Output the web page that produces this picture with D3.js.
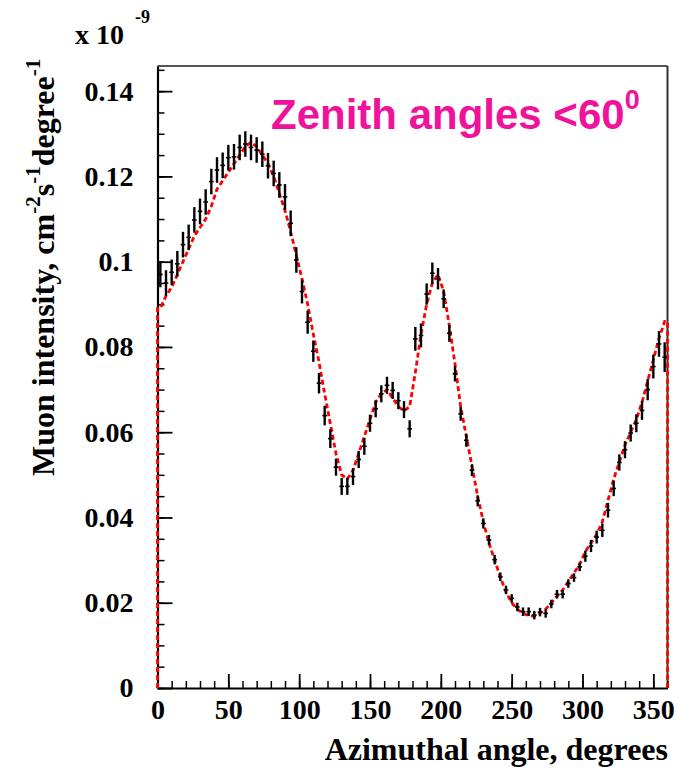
<!DOCTYPE html>
<html>
<head>
<meta charset="utf-8">
<script src="https://cdn.jsdelivr.net/npm/d3@7"></script>
<style>
  html, body { margin: 0; padding: 0; background: #ffffff; }
  svg { display: block; }
</style>
</head>
<body>
<div id="chart"></div>
<script>
// ---- data ----
const angles = [2,6,10,14,18,22,26,30,34,38,42,46,50,54,58,62,66,70,74,78,82,86,90,94,98,
  102,106,110,114,118,122,126,130,134,138,142,146,150,154,158,162,166,170,174,178,182,186,190,194,198,
  202,206,210,214,218,222,226,230,234,238,242,246,250,254,258,262,266,270,274,278,282,286,290,294,298,
  302,306,310,314,318,322,326,330,334,338,342,346,350,354,358];
const measured = [0.0970,0.0950,0.0975,0.0995,0.1040,0.1057,0.1098,0.1118,0.1140,0.1188,
  0.1215,0.1226,0.1244,0.1246,0.1268,0.1276,0.1268,0.1262,0.1252,0.1225,
  0.1207,0.1180,0.1152,0.1090,0.1004,0.0930,0.0858,0.0790,0.0715,0.0639,
  0.0585,0.0518,0.0473,0.0473,0.0496,0.0536,0.0567,0.0621,0.0655,0.0690,
  0.0710,0.0698,0.0674,0.0653,0.0608,0.0819,0.0827,0.0924,0.0973,0.0960,
  0.0913,0.0832,0.0737,0.0643,0.0581,0.0511,0.0439,0.0386,0.0347,0.0301,
  0.0261,0.0230,0.0210,0.0190,0.0179,0.0179,0.0171,0.0178,0.0175,0.0197,
  0.0220,0.0220,0.0245,0.0259,0.0284,0.0309,0.0333,0.0354,0.0370,0.0417,
  0.0468,0.0529,0.0559,0.0598,0.0621,0.0651,0.0700,0.0754,0.0807,0.0776];
const errors = [0.0030,0.0030,0.0030,0.0030,0.0030,0.0030,0.0030,0.0030,0.0030,0.0030,
  0.0030,0.0030,0.0030,0.0030,0.0030,0.0030,0.0030,0.0030,0.0030,0.0030,
  0.0030,0.0030,0.0030,0.0030,0.0030,0.0028,0.0027,0.0025,0.0024,0.0023,
  0.0022,0.0020,0.0020,0.0020,0.0020,0.0020,0.0020,0.0020,0.0020,0.0020,
  0.0020,0.0020,0.0020,0.0020,0.0020,0.0028,0.0028,0.0025,0.0025,0.0025,
  0.0022,0.0020,0.0018,0.0016,0.0015,0.0014,0.0013,0.0012,0.0012,0.0011,
  0.0010,0.0010,0.0010,0.0010,0.0010,0.0010,0.0010,0.0010,0.0010,0.0010,
  0.0010,0.0010,0.0010,0.0010,0.0010,0.0013,0.0014,0.0015,0.0016,0.0017,
  0.0018,0.0019,0.0020,0.0020,0.0021,0.0022,0.0025,0.0028,0.0030,0.0035];
const simulated = [0.0890,0.0920,0.0940,0.0970,0.1000,0.1030,0.1060,0.1080,0.1100,0.1130,
  0.1170,0.1190,0.1210,0.1230,0.1250,0.1270,0.1280,0.1270,0.1250,0.1230,
  0.1200,0.1160,0.1120,0.1070,0.1015,0.0960,0.0900,0.0830,0.0765,0.0690,
  0.0620,0.0550,0.0500,0.0490,0.0510,0.0550,0.0590,0.0630,0.0670,0.0690,
  0.0700,0.0680,0.0660,0.0650,0.0660,0.0740,0.0830,0.0900,0.0950,0.0970,
  0.0930,0.0850,0.0760,0.0660,0.0590,0.0520,0.0450,0.0390,0.0340,0.0300,
  0.0260,0.0225,0.0200,0.0185,0.0175,0.0170,0.0168,0.0175,0.0185,0.0200,
  0.0215,0.0230,0.0250,0.0270,0.0290,0.0320,0.0340,0.0360,0.0390,0.0440,
  0.0490,0.0530,0.0570,0.0600,0.0630,0.0670,0.0720,0.0770,0.0820,0.0860];
const binWidth = 4;
const xTicks = [0,50,100,150,200,250,300,350];
const yTicks = [0,0.02,0.04,0.06,0.08,0.1,0.12,0.14];

// ---- layout ----
const W = 679, H = 769;
const M = {left: 157.5, right: 667.5, top: 66, bottom: 688};
const serif = "'Liberation Serif','Times New Roman',serif";
const sans = "'Liberation Sans',Arial,sans-serif";

const svg = d3.select("#chart").append("svg").attr("width", W).attr("height", H);

const x = d3.scaleLinear().domain([0, 360]).range([M.left, M.right]);
const y = d3.scaleLinear().domain([0, 0.1459]).range([M.bottom, M.top]);

// frame (top / right)
svg.append("line").attr("x1", M.left).attr("x2", M.right).attr("y1", M.top).attr("y2", M.top)
  .attr("stroke", "#555").attr("stroke-width", 2);
svg.append("line").attr("x1", M.right).attr("x2", M.right).attr("y1", M.top).attr("y2", M.bottom)
  .attr("stroke", "#333").attr("stroke-width", 2);

// y axis
const yMinor = d3.range(0, 0.1456, 0.005);
svg.append("g").attr("transform", `translate(${M.left},0)`)
  .call(d3.axisLeft(y).tickValues(yMinor).tickSize(-7).tickFormat("").tickSizeOuter(0))
  .call(g => g.select(".domain").remove())
  .call(g => g.selectAll("line").attr("stroke", "#000").attr("stroke-width", 1.5));
const yAx = svg.append("g").attr("transform", `translate(${M.left},0)`)
  .call(d3.axisLeft(y).tickValues(yTicks).tickSize(-15).tickSizeOuter(0).tickPadding(24)
    .tickFormat(d => d === 0 ? "0" : String(+d.toFixed(2))));
yAx.select(".domain").attr("stroke", "#000").attr("stroke-width", 2.2);
yAx.selectAll(".tick line").attr("stroke", "#000").attr("stroke-width", 1.8);
yAx.selectAll("text").attr("font-family", serif).attr("font-weight", "bold")
  .attr("font-size", 28).attr("fill", "#000");

// x axis
const xMinor = d3.range(0, 361, 10);
svg.append("g").attr("transform", `translate(0,${M.bottom})`)
  .call(d3.axisBottom(x).tickValues(xMinor).tickSize(-7).tickFormat("").tickSizeOuter(0))
  .call(g => g.select(".domain").remove())
  .call(g => g.selectAll("line").attr("stroke", "#000").attr("stroke-width", 1.5));
const xAx = svg.append("g").attr("transform", `translate(0,${M.bottom})`)
  .call(d3.axisBottom(x).tickValues(xTicks).tickSize(-14).tickSizeOuter(0).tickPadding(11)
    .tickFormat(d3.format("d")));
xAx.select(".domain").attr("stroke", "#000").attr("stroke-width", 2.2);
xAx.selectAll(".tick line").attr("stroke", "#000").attr("stroke-width", 1.8);
xAx.selectAll("text").attr("font-family", serif).attr("font-weight", "bold")
  .attr("font-size", 28).attr("fill", "#000");

// simulated distribution (red dashed line)
const simPts = [[0, 0], [0, simulated[0]]];
angles.forEach((a, i) => simPts.push([a, simulated[i]]));
simPts.push([360, simulated[simulated.length - 1]]);
simPts.push([360, 0]);
svg.append("path")
  .datum(simPts)
  .attr("d", d3.line().x(d => x(d[0])).y(d => y(d[1])))
  .attr("fill", "none").attr("stroke", "#ff0000").attr("stroke-width", 2.8)
  .attr("stroke-dasharray", "5,3");

// measured points with error bars
const pts = svg.append("g");
pts.selectAll("line.err").data(angles).join("line").attr("class", "err")
  .attr("x1", d => x(d)).attr("x2", d => x(d))
  .attr("y1", (d, i) => y(measured[i] - errors[i]))
  .attr("y2", (d, i) => y(measured[i] + errors[i]))
  .attr("stroke", "#000").attr("stroke-width", 2.4);
pts.selectAll("line.bin").data(angles).join("line").attr("class", "bin")
  .attr("x1", d => x(d - binWidth / 2) + 0.5).attr("x2", d => x(d + binWidth / 2) - 0.5)
  .attr("y1", (d, i) => y(measured[i])).attr("y2", (d, i) => y(measured[i]))
  .attr("stroke", "#000").attr("stroke-width", 1.6);

// multiplier
const mult = svg.append("text").attr("x", 75).attr("y", 44)
  .attr("font-family", serif).attr("font-weight", "bold").attr("font-size", 28).attr("fill", "#000");
mult.append("tspan").text("x 10");
mult.append("tspan").attr("dx", 11).attr("dy", -21).attr("font-size", 18).text("-9");

// y title
const yt = svg.append("text")
  .attr("transform", "translate(54,476) rotate(-90)")
  .attr("text-anchor", "start")
  .attr("font-family", serif).attr("font-weight", "bold").attr("font-size", 32).attr("fill", "#000");
yt.append("tspan").text("Muon intensity, cm");
yt.append("tspan").attr("dy", -14).attr("font-size", 21).text("-2");
yt.append("tspan").attr("dy", 14).text("s");
yt.append("tspan").attr("dy", -14).attr("font-size", 21).text("-1");
yt.append("tspan").attr("dy", 14).text("degree");
yt.append("tspan").attr("dy", -14).attr("font-size", 21).text("-1");

// x title
svg.append("text").attr("x", 668).attr("y", 760).attr("text-anchor", "end")
  .attr("font-family", serif).attr("font-weight", "bold").attr("font-size", 32).attr("fill", "#000")
  .text("Azimuthal angle, degrees");

// annotation
const ann = svg.append("text").attr("x", 271).attr("y", 129)
  .attr("font-family", sans).attr("font-weight", "bold").attr("font-size", 42).attr("fill", "#f0129b");
ann.append("tspan").text("Zenith angles <60");
ann.append("tspan").attr("dy", -20).attr("font-size", 27).text("0");
</script>
</body>
</html>
